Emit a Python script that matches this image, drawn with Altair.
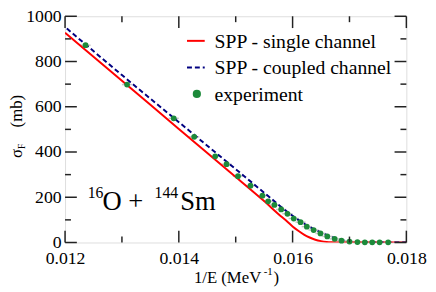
import altair as alt
import pandas as pd

# ---- data ----
exp_x = [0.01236, 0.01309, 0.01391, 0.01427, 0.01464, 0.01484, 0.01504, 0.01526,
         0.01547, 0.01557, 0.01568, 0.01580, 0.01591, 0.01602, 0.01614, 0.01625,
         0.01637, 0.01649, 0.01661, 0.01674, 0.01686, 0.01700, 0.01714, 0.01727,
         0.01740, 0.01753, 0.01768]
exp_y = [872, 698, 549, 467, 381, 346, 293, 251, 207, 182, 166, 146, 127, 106,
         90, 70, 55, 40, 27, 16, 8, 4, 2, 1, 1, 1, 1]
exp_xerr = 0.00009

single_x = [0.0120, 0.0130, 0.0140, 0.0150, 0.0155, 0.0158, 0.0159, 0.0160, 0.0161,
            0.0162, 0.0163, 0.0164, 0.0165, 0.0166, 0.0167, 0.0168, 0.0170, 0.0180]
single_y = [927, 715, 502, 290, 183, 115, 94, 71, 52, 35, 22, 12, 6, 2.5, 1, 0.3, 0, 0]

coupled_x = [0.01203, 0.0130, 0.0140, 0.0150, 0.0155, 0.0157, 0.0158, 0.0159, 0.0160,
             0.0161, 0.0162, 0.0163, 0.0164, 0.0165, 0.0166, 0.0167, 0.0168, 0.0169,
             0.0170, 0.0171, 0.0172, 0.0174, 0.0180]
coupled_y = [946, 740, 532, 324, 220, 178, 157, 137, 118, 100, 84, 69, 56, 44, 33,
             23, 15, 9, 5, 2.5, 1.2, 0.3, 0]

x_major = [0.012, 0.014, 0.016, 0.018]
x_minor = [0.013, 0.015, 0.017]
y_major = [0, 200, 400, 600, 800, 1000]
y_minor = [100, 300, 500, 700, 900]

legend_labels = ["SPP - single channel", "SPP - coupled channel", "experiment"]

# ---- styling ----
W, H = 347, 230
FONT = "Times New Roman"
RED = "#ff0000"
NAVY = "#000080"
GREEN = "#1c8a3a"
FRAME = "#222222"

xscale = alt.Scale(domain=[0.012, 0.018], nice=False, zero=False)
yscale = alt.Scale(domain=[0, 1000], nice=False)
xax = alt.Axis(title=None, values=x_major, format=".3f", ticks=False, domain=False,
               grid=False, labelFont=FONT, labelFontSize=18, labelColor="black",
               labelPadding=7, labelFlush=False)
yax = alt.Axis(title=None, values=y_major, format="d", ticks=False, domain=False,
               grid=False, labelFont=FONT, labelFontSize=18, labelColor="black",
               labelPadding=4)

X = lambda f: alt.X(f, type="quantitative", scale=xscale, axis=xax)
Y = lambda f: alt.Y(f, type="quantitative", scale=yscale, axis=yax)

df_exp = pd.DataFrame({"x": exp_x, "y": exp_y})
df_exp["xlo"] = df_exp["x"] - exp_xerr
df_exp["xhi"] = df_exp["x"] + exp_xerr
df_single = pd.DataFrame({"x": single_x, "y": single_y})
df_coupled = pd.DataFrame({"x": coupled_x, "y": coupled_y})

errbars = alt.Chart(df_exp).mark_rule(color="#c8c8c8", strokeWidth=1.5).encode(
    x=X("xlo"), x2="xhi", y=Y("y"))
single = alt.Chart(df_single).mark_line(color=RED, strokeWidth=2, interpolate="monotone",
                                        clip=True).encode(x=X("x"), y=Y("y"))
coupled = alt.Chart(df_coupled).mark_line(color=NAVY, strokeWidth=2, strokeDash=[5, 3],
                                          interpolate="monotone", clip=True).encode(
    x=X("x"), y=Y("y"))
points = alt.Chart(df_exp).mark_circle(color=GREEN, opacity=1, size=34).encode(
    x=X("x"), y=Y("y"))

# inward ticks on all four sides
def yticks(vals, length):
    d = pd.DataFrame({"y": vals})
    left = alt.Chart(d).mark_rule(color=FRAME, strokeWidth=1.5).encode(
        y=Y("y"), x=alt.value(0), x2=alt.value(length))
    right = alt.Chart(d).mark_rule(color=FRAME, strokeWidth=1.5).encode(
        y=Y("y"), x=alt.value(W - length), x2=alt.value(W))
    return [left, right]

def xticks(vals, length):
    d = pd.DataFrame({"x": vals})
    bottom = alt.Chart(d).mark_rule(color=FRAME, strokeWidth=1.5).encode(
        x=X("x"), y=alt.value(H - length), y2=alt.value(H))
    top = alt.Chart(d).mark_rule(color=FRAME, strokeWidth=1.5).encode(
        x=X("x"), y=alt.value(0), y2=alt.value(length))
    return [bottom, top]

ticks = yticks(y_major, 12) + yticks(y_minor, 6) + xticks(x_major, 12) + xticks(x_minor, 6)

def txt(s, x, y, size, align="left", angle=0, baseline="alphabetic"):
    return alt.Chart(pd.DataFrame({"t": [s]})).mark_text(
        font=FONT, fontSize=size, color="black", align=align, baseline=baseline,
        angle=angle).encode(x=alt.value(x), y=alt.value(y), text="t:N")

# legend
leg = [
    alt.Chart(pd.DataFrame({"a": [0]})).mark_rule(color=RED, strokeWidth=2).encode(
        x=alt.value(124), x2=alt.value(142), y=alt.value(25)),
    alt.Chart(pd.DataFrame({"a": [0]})).mark_rule(color=NAVY, strokeWidth=2,
                                                 strokeDash=[5, 3]).encode(
        x=alt.value(124), x2=alt.value(142), y=alt.value(52)),
    alt.Chart(pd.DataFrame({"a": [0]})).mark_circle(color=GREEN, opacity=1, size=70).encode(
        x=alt.value(134), y=alt.value(79)),
    txt(legend_labels[0], 152, 32.5, 20),
    txt(legend_labels[1], 152, 59, 20),
    txt(legend_labels[2], 152, 86, 20),
]

# reaction label  16O + 144Sm
react = [
    txt("16", 23, 185, 16),
    txt("O + ", 38, 197, 27),
    txt("144", 91, 185, 16),
    txt("Sm", 117, 197, 27),
]

# axis titles
titles = [
    txt("\u03c3", -44, 144, 17, angle=270),
    txt("F", -41, 135, 10, angle=270),
    txt("(mb)", -44, 113, 17, angle=270),
    txt("1/E  (MeV", 131, 271, 17),
    txt("-1", 202, 263, 11),
    txt(")", 212, 271, 17),
]

chart = alt.layer(errbars, single, coupled, points, *ticks, *leg, *react, *titles).properties(
    width=W, height=H,
    autosize=alt.AutoSizeParams(type="none"),
    padding={"left": 58, "top": 6, "right": 22, "bottom": 52},
).configure_view(stroke=FRAME, strokeWidth=1.5).configure(background="white")

chart.save("out.html", embed_options={"renderer": "svg", "actions": False})
